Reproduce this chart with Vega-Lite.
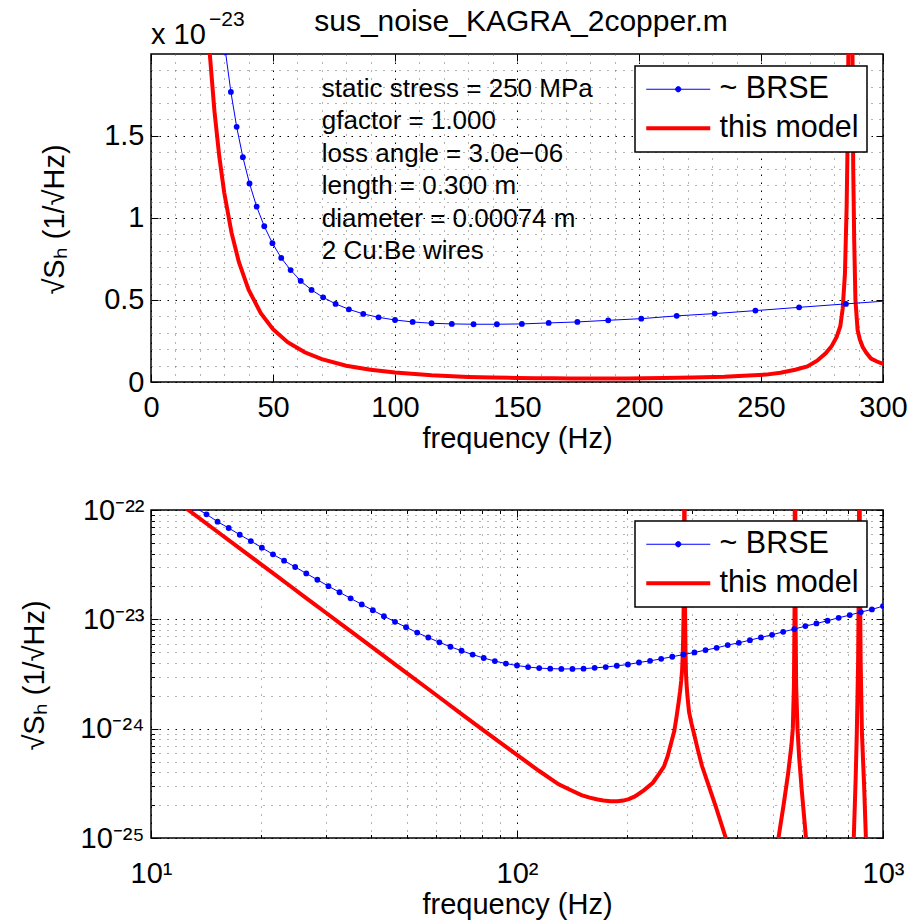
{
  "$schema": "https://vega.github.io/schema/vega-lite/v6.json",
  "background": "white",
  "padding": {"left": 19, "top": 6, "right": 0, "bottom": 0},
  "datasets": {
    "brse": [
      {"f": 13.22, "v": 1.05e-22}, {"f": 14.18, "v": 9.13e-23}, {"f": 15.20, "v": 7.82e-23}, {"f": 16.30, "v": 6.84e-23},
      {"f": 17.48, "v": 5.94e-23}, {"f": 18.74, "v": 5.20e-23}, {"f": 20.09, "v": 4.52e-23}, {"f": 21.54, "v": 3.93e-23},
      {"f": 23.10, "v": 3.44e-23}, {"f": 24.77, "v": 3.01e-23}, {"f": 26.56, "v": 2.63e-23}, {"f": 28.48, "v": 2.30e-23},
      {"f": 30.54, "v": 2.01e-23}, {"f": 32.74, "v": 1.768e-23}, {"f": 35.11, "v": 1.555e-23}, {"f": 37.65, "v": 1.370e-23},
      {"f": 40.37, "v": 1.210e-23}, {"f": 43.29, "v": 1.069e-23}, {"f": 46.42, "v": 9.49e-24}, {"f": 49.77, "v": 8.46e-24},
      {"f": 53.37, "v": 7.56e-24}, {"f": 57.23, "v": 6.82e-24}, {"f": 61.37, "v": 6.16e-24}, {"f": 65.79, "v": 5.61e-24},
      {"f": 70.55, "v": 5.16e-24}, {"f": 75.65, "v": 4.76e-24}, {"f": 81.11, "v": 4.43e-24}, {"f": 86.98, "v": 4.15e-24},
      {"f": 93.26, "v": 3.94e-24}, {"f": 100.0, "v": 3.78e-24}, {"f": 107.23, "v": 3.66e-24}, {"f": 114.98, "v": 3.58e-24},
      {"f": 123.28, "v": 3.54e-24}, {"f": 132.19, "v": 3.52e-24}, {"f": 141.75, "v": 3.52e-24}, {"f": 151.99, "v": 3.54e-24},
      {"f": 162.98, "v": 3.60e-24}, {"f": 174.75, "v": 3.66e-24}, {"f": 187.38, "v": 3.76e-24}, {"f": 200.92, "v": 3.86e-24},
      {"f": 215.44, "v": 4.03e-24}, {"f": 231.01, "v": 4.17e-24}, {"f": 247.71, "v": 4.35e-24}, {"f": 265.61, "v": 4.55e-24},
      {"f": 284.80, "v": 4.76e-24}, {"f": 305.39, "v": 4.98e-24}, {"f": 327.45, "v": 5.23e-24}, {"f": 351.12, "v": 5.49e-24},
      {"f": 376.49, "v": 5.81e-24}, {"f": 403.70, "v": 6.10e-24}, {"f": 432.88, "v": 6.45e-24}, {"f": 464.16, "v": 6.83e-24},
      {"f": 497.70, "v": 7.22e-24}, {"f": 533.67, "v": 7.69e-24}, {"f": 572.24, "v": 8.14e-24}, {"f": 613.59, "v": 8.67e-24},
      {"f": 657.93, "v": 9.17e-24}, {"f": 705.48, "v": 9.70e-24}, {"f": 756.46, "v": 1.033e-23}, {"f": 811.13, "v": 1.093e-23},
      {"f": 869.75, "v": 1.165e-23}, {"f": 932.60, "v": 1.232e-23}, {"f": 1000.0, "v": 1.321e-23}
    ],
    "model": [
      {"f": 10, "v": 1.80e-22}, {"f": 12, "v": 1.141e-22}, {"f": 15, "v": 6.53e-23}, {"f": 18, "v": 4.14e-23},
      {"f": 20, "v": 3.18e-23}, {"f": 22, "v": 2.506e-23}, {"f": 24, "v": 2.017e-23}, {"f": 26, "v": 1.651e-23},
      {"f": 28, "v": 1.372e-23}, {"f": 30, "v": 1.155e-23}, {"f": 33, "v": 9.10e-24}, {"f": 36, "v": 7.32e-24},
      {"f": 40, "v": 5.62e-24}, {"f": 45, "v": 4.19e-24}, {"f": 50, "v": 3.22e-24}, {"f": 56, "v": 2.43e-24},
      {"f": 63, "v": 1.81e-24}, {"f": 70, "v": 1.39e-24}, {"f": 80, "v": 9.95e-25}, {"f": 90, "v": 7.45e-25},
      {"f": 100, "v": 5.75e-25}, {"f": 115, "v": 4.1e-25}, {"f": 130, "v": 3.1e-25}, {"f": 140, "v": 2.75e-25},
      {"f": 150, "v": 2.47e-25}, {"f": 158, "v": 2.34e-25}, {"f": 165, "v": 2.26e-25}, {"f": 172, "v": 2.2e-25},
      {"f": 180, "v": 2.17e-25}, {"f": 188, "v": 2.17e-25}, {"f": 195, "v": 2.2e-25}, {"f": 202, "v": 2.27e-25},
      {"f": 210, "v": 2.4e-25},
      {"f": 222, "v": 2.73e-25}, {"f": 235, "v": 3.2e-25}, {"f": 245, "v": 3.9e-25}, {"f": 252, "v": 4.5e-25},
      {"f": 258, "v": 5.6e-25}, {"f": 264, "v": 7.5e-25}, {"f": 269, "v": 9.5e-25}, {"f": 273, "v": 1.3e-24},
      {"f": 276.5, "v": 1.75e-24}, {"f": 279, "v": 2.2e-24}, {"f": 281, "v": 2.75e-24}, {"f": 282.5, "v": 3.4e-24},
      {"f": 283.5, "v": 4.5e-24}, {"f": 284.4, "v": 6.6e-24}, {"f": 285.1, "v": 1.07e-23}, {"f": 285.5, "v": 1.47e-23},
      {"f": 285.8, "v": 2.0e-23}, {"f": 286.2, "v": 6e-23}, {"f": 286.7, "v": 1e-20}, {"f": 287.1, "v": 6e-23},
      {"f": 287.5, "v": 2.0e-23}, {"f": 287.8, "v": 1.3e-23}, {"f": 288.2, "v": 8.6e-24}, {"f": 288.7, "v": 5.0e-24},
      {"f": 289.6, "v": 3.15e-24}, {"f": 290.5, "v": 2.6e-24}, {"f": 291.7, "v": 2.13e-24}, {"f": 293.3, "v": 1.75e-24},
      {"f": 295.1, "v": 1.43e-24}, {"f": 297.5, "v": 1.25e-24}, {"f": 300, "v": 1.1e-24}, {"f": 305, "v": 8.8e-25},
      {"f": 312, "v": 6.4e-25}, {"f": 320, "v": 4.6e-25}, {"f": 332, "v": 3.2e-25}, {"f": 350, "v": 1.9e-25},
      {"f": 372, "v": 1.0e-25}, {"f": 400, "v": 5e-26}, {"f": 450, "v": 2.5e-26}, {"f": 500, "v": 5e-26},
      {"f": 518, "v": 1.0e-25}, {"f": 535, "v": 2.0e-25}, {"f": 550, "v": 3.8e-25}, {"f": 562, "v": 7e-25},
      {"f": 567, "v": 1.0e-24}, {"f": 571, "v": 2.5e-24}, {"f": 573.5, "v": 1.5e-23}, {"f": 575, "v": 1e-20},
      {"f": 576.5, "v": 1.5e-23}, {"f": 579, "v": 2.5e-24}, {"f": 584, "v": 1.0e-24}, {"f": 590, "v": 5.5e-25},
      {"f": 600, "v": 2.7e-25}, {"f": 616, "v": 1.0e-25}, {"f": 650, "v": 3e-26}, {"f": 750, "v": 1.5e-26},
      {"f": 810, "v": 4e-26}, {"f": 832, "v": 1.0e-25}, {"f": 842, "v": 3.5e-25}, {"f": 848, "v": 9e-25},
      {"f": 855, "v": 4e-24}, {"f": 859.5, "v": 3e-23}, {"f": 862, "v": 1e-20}, {"f": 864.5, "v": 3e-23},
      {"f": 869, "v": 4e-24}, {"f": 876, "v": 9e-25}, {"f": 888, "v": 3e-25}, {"f": 898, "v": 1.0e-25},
      {"f": 920, "v": 4e-26}, {"f": 1000, "v": 2e-26}
    ]
  },
  "config": {
    "font": "Liberation Sans",
    "view": {"stroke": "#000", "strokeWidth": 1.5},
    "axis": {
      "domain": false, "labelFont": "Liberation Sans", "labelFontSize": 29, "labelColor": "#000",
      "titleFont": "Liberation Sans", "titleFontSize": 29, "titleFontWeight": "normal", "titleColor": "#000",
      "tickColor": "#000", "tickWidth": 1, "labelFlush": false, "labelOverlap": false, "labelBound": false, "gridWidth": 1
    },
    "legend": {"labelFont": "Liberation Sans", "labelFontSize": 30.5, "labelColor": "#000"},
    "text": {"font": "Liberation Sans", "color": "#000"}
  },
  "spacing": 128,
  "bounds": "flush",
  "resolve": {"scale": {"color": "independent"}, "legend": {"color": "independent"}},
  "vconcat": [
    {
      "width": 732,
      "height": 328,
      "layer": [
        {
          "data": {"name": "model"},
          "mark": {"type": "line", "strokeWidth": 4, "clip": true},
          "encoding": {
            "x": {"field": "f", "type": "quantitative", "scale": {"domain": [0, 300], "nice": false, "zero": false},
              "axis": {"orient": "top", "values": [0,10,20,30,40,50,60,70,80,90,100,110,120,130,140,150,160,170,180,190,200,210,220,230,240,250,260,270,280,290,300],
                "labels": false, "grid": false, "title": null, "tickSize": -7,
                "tickOpacity": {"condition": {"test": "datum.value % 50 === 0", "value": 1}, "value": 0}}},
            "y": {"field": "v", "type": "quantitative", "scale": {"domain": [0, 1.999e-23], "nice": false, "zero": false},
              "axis": {"orient": "right", "values": [0,1e-24,2e-24,3e-24,4e-24,5e-24,6e-24,7e-24,8e-24,9e-24,1e-23,1.1e-23,1.2e-23,1.3e-23,1.4e-23,1.5e-23,1.6e-23,1.7e-23,1.8e-23,1.9e-23],
                "labels": false, "grid": false, "title": null, "tickSize": -7,
                "tickOpacity": {"condition": {"test": "abs(datum.value*2e23 - round(datum.value*2e23)) < 1e-6", "value": 1}, "value": 0}}},
            "color": {"datum": "this model", "type": "nominal",
              "scale": {"domain": ["~ BRSE", "this model"], "range": ["#0000ff", "#ff0000"]},
              "legend": {"title": null, "orient": "none", "legendX": 484, "legendY": 12, "strokeColor": "#000", "fillColor": "#fff",
                "padding": 8, "cornerRadius": 0, "symbolSize": 256, "symbolOffset": 20, "labelOffset": 26, "rowPadding": 8,
                "labelFontSize": 30.5, "labelLimit": 400, "labelExpr": "datum.label + '\u00a0\u00a0'",
                "encode": {
                  "symbols": {"update": {
                    "shape": {"signal": "datum.value === '~ BRSE' ? 'M-4,0H4M-0.33,0A0.33,0.33,0,1,1,0.33,0A0.33,0.33,0,1,1,-0.33,0Z' : 'M-4,0H4'"},
                    "strokeWidth": {"signal": "datum.value === '~ BRSE' ? 1 : 4"},
                    "fill": {"signal": "datum.value === '~ BRSE' ? '#0000ff' : 'transparent'"},
                    "opacity": {"value": 1}}},
                  "legend": {"update": {"strokeWidth": {"value": 1.5}}}
                }}}
          }
        },
        {
          "data": {"name": "brse"},
          "mark": {"type": "line", "strokeWidth": 1, "clip": true},
          "encoding": {
            "x": {"field": "f", "type": "quantitative",
              "axis": {"orient": "bottom", "values": [0,10,20,30,40,50,60,70,80,90,100,110,120,130,140,150,160,170,180,190,200,210,220,230,240,250,260,270,280,290,300],
                "title": "frequency (Hz)", "titleBaseline": "alphabetic", "titleY": 65,
                "labelExpr": "datum.value % 50 === 0 ? format(datum.value, 'd') : ''",
                "labelBaseline": "alphabetic", "labelPadding": 41,
                "tickSize": -7, "tickOpacity": {"condition": {"test": "datum.value % 50 === 0", "value": 1}, "value": 0},
                "grid": true,
                "gridColor": {"condition": {"test": "datum.value % 50 === 0", "value": "#000"}, "value": "#666"},
                "gridDash": {"condition": {"test": "datum.value % 50 === 0", "value": [1.5, 6.5]}, "value": [1, 7]}}},
            "y": {"field": "v", "type": "quantitative",
              "axis": {"orient": "left", "values": [0,1e-24,2e-24,3e-24,4e-24,5e-24,6e-24,7e-24,8e-24,9e-24,1e-23,1.1e-23,1.2e-23,1.3e-23,1.4e-23,1.5e-23,1.6e-23,1.7e-23,1.8e-23,1.9e-23],
                "title": "√Sₕ (1/√Hz)", "titleX": -88, "titleY": 165, "titleAngle": -90, "titleBaseline": "alphabetic", "titleAlign": "center",
                "labelExpr": "abs(datum.value*2e23 - round(datum.value*2e23)) < 1e-6 ? format(datum.value*1e23, '~g') : ''",
                "labelPadding": 14,
                "tickSize": -7, "tickOpacity": {"condition": {"test": "abs(datum.value*2e23 - round(datum.value*2e23)) < 1e-6", "value": 1}, "value": 0},
                "grid": true,
                "gridColor": {"condition": {"test": "abs(datum.value*2e23 - round(datum.value*2e23)) < 1e-6", "value": "#000"}, "value": "#666"},
                "gridDash": {"condition": {"test": "abs(datum.value*2e23 - round(datum.value*2e23)) < 1e-6", "value": [1.5, 6.5]}, "value": [1, 7]}}},
            "color": {"datum": "~ BRSE", "type": "nominal"}
          }
        },
        {
          "data": {"name": "brse"},
          "mark": {"type": "point", "filled": true, "color": "#0000ff", "size": 34, "opacity": 1, "clip": true},
          "encoding": {
            "x": {"field": "f", "type": "quantitative", "axis": null},
            "y": {"field": "v", "type": "quantitative", "axis": null}
          }
        },
        {
          "data": {"values": [{}]},
          "mark": {"type": "text", "align": "left", "baseline": "top", "fontSize": 26, "lineHeight": 32.5,
            "text": ["static stress = 250 MPa", "gfactor = 1.000", "loss angle = 3.0e−06", "length = 0.300 m", "diameter = 0.00074 m", "2 Cu:Be wires"]},
          "encoding": {
            "x": {"datum": 70, "type": "quantitative", "axis": null},
            "y": {"datum": 1.865e-23, "type": "quantitative", "axis": null}
          }
        },
        {
          "data": {"values": [{}]},
          "mark": {"type": "text", "align": "left", "baseline": "alphabetic", "fontSize": 29, "dy": -10, "text": "x 10"},
          "encoding": {
            "x": {"datum": 0, "type": "quantitative", "axis": null},
            "y": {"datum": 1.999e-23, "type": "quantitative", "axis": null}
          }
        },
        {
          "data": {"values": [{}]},
          "mark": {"type": "text", "align": "left", "baseline": "alphabetic", "fontSize": 21, "dx": 58, "dy": -28, "text": "−23"},
          "encoding": {
            "x": {"datum": 0, "type": "quantitative", "axis": null},
            "y": {"datum": 1.999e-23, "type": "quantitative", "axis": null}
          }
        },
        {
          "data": {"values": [{}]},
          "mark": {"type": "text", "align": "center", "baseline": "alphabetic", "fontSize": 30, "dx": 4, "dy": -23, "text": "sus_noise_KAGRA_2copper.m"},
          "encoding": {
            "x": {"datum": 150, "type": "quantitative", "axis": null},
            "y": {"datum": 1.999e-23, "type": "quantitative", "axis": null}
          }
        }
      ],
      "resolve": {"axis": {"x": "independent", "y": "independent"}}
    },
    {
      "width": 732,
      "height": 328,
      "layer": [
        {
          "data": {"name": "model"},
          "mark": {"type": "line", "strokeWidth": 4, "clip": true},
          "encoding": {
            "x": {"field": "f", "type": "quantitative", "scale": {"type": "log", "domain": [10, 1000], "nice": false},
              "axis": {"orient": "top", "values": [10,20,30,40,50,60,70,80,90,100,200,300,400,500,600,700,800,900,1000],
                "labels": false, "grid": false, "title": null,
                "tickSize": {"condition": {"test": "abs(log(datum.value)/LN10 - round(log(datum.value)/LN10)) < 1e-6", "value": -7}, "value": -3.5}}},
            "y": {"field": "v", "type": "quantitative", "scale": {"type": "log", "domain": [1e-25, 1e-22], "nice": false},
              "axis": {"orient": "right", "values": [1e-25,2e-25,3e-25,4e-25,5e-25,6e-25,7e-25,8e-25,9e-25,1e-24,2e-24,3e-24,4e-24,5e-24,6e-24,7e-24,8e-24,9e-24,1e-23,2e-23,3e-23,4e-23,5e-23,6e-23,7e-23,8e-23,9e-23,1e-22],
                "labels": false, "grid": false, "title": null,
                "tickSize": {"condition": {"test": "abs(log(datum.value)/LN10 - round(log(datum.value)/LN10)) < 1e-6", "value": -7}, "value": -3.5}}},
            "color": {"datum": "this model", "type": "nominal",
              "scale": {"domain": ["~ BRSE", "this model"], "range": ["#0000ff", "#ff0000"]},
              "legend": {"title": null, "orient": "none", "legendX": 484, "legendY": 11, "strokeColor": "#000", "fillColor": "#fff",
                "padding": 8, "cornerRadius": 0, "symbolSize": 256, "symbolOffset": 20, "labelOffset": 26, "rowPadding": 8,
                "labelFontSize": 30.5, "labelLimit": 400, "labelExpr": "datum.label + '\u00a0\u00a0'",
                "encode": {
                  "symbols": {"update": {
                    "shape": {"signal": "datum.value === '~ BRSE' ? 'M-4,0H4M-0.33,0A0.33,0.33,0,1,1,0.33,0A0.33,0.33,0,1,1,-0.33,0Z' : 'M-4,0H4'"},
                    "strokeWidth": {"signal": "datum.value === '~ BRSE' ? 1 : 4"},
                    "fill": {"signal": "datum.value === '~ BRSE' ? '#0000ff' : 'transparent'"},
                    "opacity": {"value": 1}}},
                  "legend": {"update": {"strokeWidth": {"value": 1.5}}}
                }}}
          }
        },
        {
          "data": {"name": "brse"},
          "mark": {"type": "line", "strokeWidth": 1, "clip": true},
          "encoding": {
            "x": {"field": "f", "type": "quantitative",
              "axis": {"orient": "bottom", "values": [10,20,30,40,50,60,70,80,90,100,200,300,400,500,600,700,800,900,1000],
                "title": "frequency (Hz)", "titleBaseline": "alphabetic", "titleY": 75,
                "labelExpr": "abs(log(datum.value)/LN10 - round(log(datum.value)/LN10)) > 1e-6 ? '' : round(log(datum.value)/LN10) == 1 ? '10¹' : round(log(datum.value)/LN10) == 2 ? '10²' : '10³'",
                "labelBaseline": "alphabetic", "labelPadding": 51,
                "tickSize": {"condition": {"test": "abs(log(datum.value)/LN10 - round(log(datum.value)/LN10)) < 1e-6", "value": -7}, "value": -3.5},
                "grid": true,
                "gridColor": {"condition": {"test": "abs(log(datum.value)/LN10 - round(log(datum.value)/LN10)) < 1e-6", "value": "#000"}, "value": "#666"},
                "gridDash": {"condition": {"test": "abs(log(datum.value)/LN10 - round(log(datum.value)/LN10)) < 1e-6", "value": [1.5, 6.5]}, "value": [1, 7]}}},
            "y": {"field": "v", "type": "quantitative",
              "axis": {"orient": "left", "values": [1e-25,2e-25,3e-25,4e-25,5e-25,6e-25,7e-25,8e-25,9e-25,1e-24,2e-24,3e-24,4e-24,5e-24,6e-24,7e-24,8e-24,9e-24,1e-23,2e-23,3e-23,4e-23,5e-23,6e-23,7e-23,8e-23,9e-23,1e-22],
                "title": "√Sₕ (1/√Hz)", "titleX": -108, "titleY": 165, "titleAngle": -90, "titleBaseline": "alphabetic", "titleAlign": "center",
                "labelExpr": "abs(log(datum.value)/LN10 - round(log(datum.value)/LN10)) > 1e-6 ? '' : round(log(datum.value)/LN10) == -22 ? '10⁻²²' : round(log(datum.value)/LN10) == -23 ? '10⁻²³' : round(log(datum.value)/LN10) == -24 ? '10⁻²⁴' : '10⁻²⁵'",
                "labelPadding": 14,
                "tickSize": {"condition": {"test": "abs(log(datum.value)/LN10 - round(log(datum.value)/LN10)) < 1e-6", "value": -7}, "value": -3.5},
                "grid": true,
                "gridColor": {"condition": {"test": "abs(log(datum.value)/LN10 - round(log(datum.value)/LN10)) < 1e-6", "value": "#000"}, "value": "#666"},
                "gridDash": {"condition": {"test": "abs(log(datum.value)/LN10 - round(log(datum.value)/LN10)) < 1e-6", "value": [1.5, 6.5]}, "value": [1, 7]}}},
            "color": {"datum": "~ BRSE", "type": "nominal"}
          }
        },
        {
          "data": {"name": "brse"},
          "mark": {"type": "point", "filled": true, "color": "#0000ff", "size": 34, "opacity": 1, "clip": true},
          "encoding": {
            "x": {"field": "f", "type": "quantitative", "axis": null},
            "y": {"field": "v", "type": "quantitative", "axis": null}
          }
        }
      ],
      "resolve": {"axis": {"x": "independent", "y": "independent"}}
    }
  ]
}
